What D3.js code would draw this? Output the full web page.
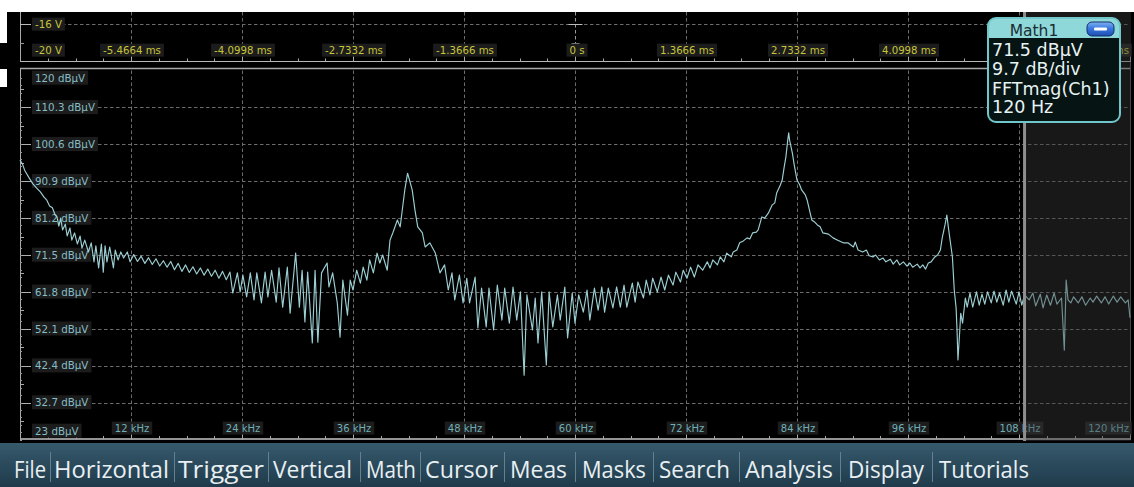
<!DOCTYPE html>
<html>
<head>
<meta charset="utf-8">
<script src="https://cdn.jsdelivr.net/npm/d3@7"></script>
<style>
  body { margin: 0; background: #fff; }
  svg { display: block; }
</style>
</head>
<body>
<svg id="scope" width="1134" height="487"></svg>
<script>
// ---- data -------------------------------------------------------------
const freqTicksKHz = [12, 24, 36, 48, 60, 72, 84, 96, 108, 120];
const levelTicksDb = [120, 110.3, 100.6, 90.9, 81.2, 71.5, 61.8, 52.1, 42.4, 32.7, 23];
const timeTicksMs = [-5.4664, -4.0998, -2.7332, -1.3666, 0, 1.3666, 2.7332, 4.0998, 5.4664, 6.833];
const timeTickLabels = ["-5.4664 ms", "-4.0998 ms", "-2.7332 ms", "-1.3666 ms", "0 s",
                        "1.3666 ms", "2.7332 ms", "4.0998 ms", "5.4664 ms", "6.833 ms"];
const voltTicks = [-16, -20];
const mathTitle = "Math1";
const mathReadout = ["71.5 dBµV", "9.7 dB/div", "FFTmag(Ch1)", "120 Hz"];
const menuItems = ["File", "Horizontal", "Trigger", "Vertical", "Math", "Cursor",
                   "Meas", "Masks", "Search", "Analysis", "Display", "Tutorials"];
const gateStartKHz = 108.6;

// FFT magnitude of Ch1: [frequency kHz, level dBµV]
const spectrum = [
  [0,96.5],[0.3,95.2],[0.5,93.8],[1.0,91.7],[1.4,90.2],[1.8,89.1],[2.2,88.1],[2.6,86.7],
  [2.9,85.9],[3.2,84.4],[3.5,83.9],[3.8,82.0],[4.0,81.5],[4.2,79.1],[4.4,81.2],[4.6,78.1],
  [4.9,79.6],[5.1,76.5],[5.4,78.6],[5.6,75.4],[5.9,77.3],[6.2,74.4],[6.5,76.5],[6.7,73.3],
  [7.0,75.4],[7.4,72.3],[7.7,74.7],[8.0,69.7],[8.2,73.9],[8.5,68.1],[8.8,74.4],[9.0,67.0],
  [9.2,73.9],[9.4,69.7],[9.7,73.6],[10.1,68.1],[10.3,72.8],[10.6,70.2],[10.9,72.3],[11.2,70.7],
  [11.6,72.3],[11.9,69.7],
  [12.3,71.6],[12.7,69.8],[13.1,71.2],[13.5,69.3],[13.9,70.8],[14.3,69.0],[14.7,70.5],[15.1,68.6],
  [15.5,70.0],[15.9,68.3],[16.3,69.8],[16.7,67.6],[17.1,69.3],[17.5,67.2],[17.9,68.9],[18.3,66.9],
  [18.7,68.4],[19.1,66.5],[19.5,68.1],[19.9,66.2],[20.3,67.8],[20.7,65.9],[21.1,67.5],[21.5,65.4],
  [21.9,67.2],[22.3,65.0],
  [22.7,67.0],[23.0,61.5],[23.5,66.8],[23.8,61.8],[24.1,66.2],[24.5,60.5],[24.9,66.8],[25.3,59.7],
  [25.6,66.8],[26.1,58.9],[26.5,67.0],[26.8,60.5],[27.2,67.5],[27.7,59.1],[28.0,68.1],[28.4,57.8],
  [28.9,68.3],[29.2,56.2],[29.8,72.0],[30.2,57.8],[30.5,67.5],[30.8,53.9],[31.1,67.0],[31.6,48.4],
  [31.9,67.5],[32.2,48.6],[32.6,66.8],[33.2,69.4],[33.4,63.1],[33.8,66.8],[34.3,58.9],[34.6,49.9],
  [34.9,64.9],[35.4,55.7],[35.7,64.9],[36.0,62.3],[36.4,67.5],[36.8,64.1],[37.1,68.3],[37.5,64.9],
  [37.8,70.2],[38.2,66.8],[38.6,72.0],[38.9,69.4],[39.2,71.5],[39.7,67.5],[40.0,75.4],[40.3,77.3],
  [40.8,80.7],[41.1,78.9],[41.3,82.8],[41.6,88.6],[41.9,93.0],[42.4,88.6],[42.7,83.3],[43.0,78.9],
  [43.5,77.3],[43.8,73.6],[44.3,74.7],[44.9,72.0],[45.4,66.8],[45.9,68.9],[46.3,62.3],
  [46.7,66.8],[47.0,59.7],[47.5,66.2],[47.9,58.9],[48.3,65.4],[48.6,58.9],[49.2,65.7],[49.5,52.3],
  [49.9,62.8],[50.4,52.6],[50.7,62.8],[51.2,51.8],[51.6,63.6],[52.1,54.4],[52.4,62.8],[52.9,53.6],
  [53.3,63.1],[53.7,54.4],[54.1,61.8],[54.5,39.9],[54.8,61.0],[55.4,51.8],[55.7,60.2],[56.0,48.4],
  [56.4,61.8],[56.9,42.6],[57.2,61.8],[57.6,52.6],[58.1,61.0],[58.4,54.4],[58.9,63.1],[59.2,49.7],
  [59.7,61.5],[60.0,53.6],[60.4,61.0],[60.9,56.5],[61.3,62.3],[61.6,54.4],[62.1,62.8],[62.5,57.0],
  [62.9,63.1],[63.2,56.5],[63.6,62.8],[64.1,57.6],[64.5,63.1],[64.9,57.8],[65.3,63.6],[65.6,57.8],
  [66.2,64.1],[66.5,59.1],[66.8,64.4],[67.4,60.2],[67.7,64.9],[68.1,61.0],[68.4,65.4],[68.9,61.8],
  [69.3,65.7],[69.7,62.3],[70.1,66.2],[70.6,63.6],[70.9,67.0],[71.4,64.4],[71.7,67.5],[72.1,65.4],
  [72.5,68.3],[72.9,65.7],[73.3,68.9],[73.8,67.5],[74.3,69.7],[74.6,68.1],[74.9,70.2],[75.4,68.9],
  [75.7,71.0],[76.1,69.7],[76.4,72.0],[76.9,71.0],[77.1,72.3],[77.5,72.8],[77.8,74.7],[78.2,75.2],
  [78.6,76.0],[78.9,75.7],[79.2,77.3],[79.6,77.5],[79.8,78.1],[80.2,81.5],[80.5,81.2],[80.9,82.5],
  [81.3,84.6],[81.6,85.2],[81.8,87.8],[82.2,89.9],[82.4,91.2],[82.6,94.4],[82.8,97.3],[83.0,101.7],
  [83.1,103.6],[83.2,101.7],[83.5,98.3],[83.7,95.2],[84.0,91.2],[84.3,89.9],[84.5,88.6],[84.9,87.3],
  [85.1,85.9],[85.4,82.8],[85.6,80.7],[85.9,80.2],[86.2,79.4],[86.5,78.9],[86.8,77.3],[87.4,77.0],
  [87.9,76.0],[88.4,75.4],[89.0,74.7],[89.5,74.7],[90.1,73.6],[90.3,74.9],[90.6,72.8],[91.1,72.3],
  [91.5,72.8],[91.8,71.3],[92.2,71.0],[92.5,71.5],[92.9,70.2],[93.3,70.7],[93.6,69.7],[94.1,70.4],
  [94.4,69.1],[94.8,70.2],[95.1,68.9],[95.5,69.7],[95.9,68.6],[96.2,69.4],[96.5,68.3],[97.0,69.1],
  [97.3,68.1],[97.6,68.9],[97.9,67.8],[98.2,69.4],[98.5,69.7],[98.9,71.0],[99.2,71.5],[99.5,72.8],
  [99.7,76.0],[100.0,79.4],[100.2,82.0],[100.4,78.1],[100.8,71.0],[101.0,62.3],[101.2,57.6],[101.3,51.8],
  [101.4,43.9],[101.6,51.8],[101.7,56.2],[101.9,53.6],[102.2,60.2],[102.4,57.8],[102.7,61.5],
  [103.0,57.8],[103.4,61.8],[103.7,58.3],[104.0,61.2],[104.3,58.6],[104.6,61.8],[105.0,58.9],[105.3,62.0],
  [105.6,59.1],[105.9,61.5],[106.3,58.3],[106.6,62.3],[106.9,59.1],[107.2,62.0],[107.7,58.6],[108.0,61.8],
  [108.3,58.3],[108.6,61.0],[109.1,59.7],[109.5,61.5],[109.8,58.1],[110.3,61.2],[110.6,57.6],[111.0,61.0],
  [111.4,58.3],[111.8,61.5],[112.1,58.6],[112.6,60.2],[112.9,46.5],[113.1,64.9],[113.3,59.7],[113.6,58.9],
  [113.9,60.5],[114.4,58.9],[114.8,60.5],[115.2,58.3],[115.7,60.2],[116.0,59.1],[116.4,60.7],[116.9,58.9],
  [117.3,60.5],[117.7,58.6],[118.2,60.7],[118.6,59.1],[119.0,60.5],[119.5,58.9],[119.8,59.7],[120.0,55.0]
];

// ---- layout -----------------------------------------------------------
const svg = d3.select("#scope").attr("font-family", "'DejaVu Sans', sans-serif");
const W = 1134, H = 487;
const left = 20, right = 1130;
const plotTop = 70.5, plotBottom = 439.5;
const menuTop = 443;
// menu item start, width and separator positions (px)
const menuX = [14, 54, 178, 273, 366, 425, 510, 582, 659, 745, 848, 939];
const menuW = [32, 115, 86, 79, 50, 73, 57, 64, 71, 88, 76, 90];
const menuSepX = [50, 174, 268, 360, 420, 504, 575, 653, 739, 840, 932];

const x = d3.scaleLinear().domain([0, 120]).range([left, right]);
const y = d3.scaleLinear().domain([23, 120]).range([plotBottom, plotTop]);
const tx = d3.scaleLinear().domain([-6.833, 6.833]).range([left, right]);
const vy = d3.scaleLinear().domain([-20, -16]).range([61, 24]);
const px = v => Math.round(v) + 0.5;

const bx = 988, by = 18, bw = 132, bh = 104, br = 8;   // readout badge box

// ---- background ---------------------------------------------------------
svg.append("rect").attr("x", 0).attr("y", 0).attr("width", W).attr("height", H).attr("fill", "#fff");
svg.append("rect").attr("x", 0).attr("y", 12).attr("width", W).attr("height", menuTop - 12).attr("fill", "#000");
svg.append("rect").attr("x", 0).attr("y", 12).attr("width", 7).attr("height", 31).attr("fill", "#fff");
svg.append("rect").attr("x", 0).attr("y", 69).attr("width", 7).attr("height", 18).attr("fill", "#fff");

const gridColor = "#6c6c6c";
const dash = "3.5,2.5";

// ---- time / voltage panel ---------------------------------------------
const timePanel = svg.append("g");
timePanel.selectAll("line.tgrid").data(timeTicksMs.slice(0, -1)).join("line")
  .attr("x1", d => px(tx(d))).attr("x2", d => px(tx(d)))
  .attr("y1", 12).attr("y2", 61)
  .attr("stroke", d => d === 0 ? "#9a9a9a" : gridColor).attr("stroke-dasharray", dash);
timePanel.append("line").attr("x1", left).attr("x2", right).attr("y1", px(vy(-16))).attr("y2", px(vy(-16)))
  .attr("stroke", gridColor).attr("stroke-dasharray", dash);
// centre crosshair
timePanel.append("line").attr("x1", px(tx(0)) - 7).attr("x2", px(tx(0)) + 7)
  .attr("y1", px(vy(-16))).attr("y2", px(vy(-16))).attr("stroke", "#bbb");
timePanel.append("line").attr("x1", px(tx(0)) - 4).attr("x2", px(tx(0)) + 4)
  .attr("y1", px(vy(-18))).attr("y2", px(vy(-18))).attr("stroke", "#999");
// left volt axis
timePanel.append("line").attr("x1", px(left)).attr("x2", px(left)).attr("y1", 12).attr("y2", 61.5).attr("stroke", "#aaa");
timePanel.append("line").attr("x1", left).attr("x2", left + 11).attr("y1", px(vy(-16))).attr("y2", px(vy(-16))).attr("stroke", "#bbb");
timePanel.append("line").attr("x1", left).attr("x2", left + 4).attr("y1", px(vy(-18))).attr("y2", px(vy(-18))).attr("stroke", "#999");
// time axis line with quarter-division ticks
timePanel.append("line").attr("x1", left).attr("x2", right + 1).attr("y1", 61.5).attr("y2", 61.5).attr("stroke", "#b8b8b8").attr("stroke-width", 1.2);
timePanel.selectAll("line.tt").data(d3.range(-6.833, 6.84, 1.3666 / 4)).join("line")
  .attr("x1", d => px(tx(d))).attr("x2", d => px(tx(d)))
  .attr("y1", 61.5).attr("y2", (d, i) => i % 4 === 0 ? 55 : 58.5).attr("stroke", "#aaa");

function boxedText(g, txt, xPos, yPos, anchor, color, size) {
  const grp = g.append("g");
  const t = grp.append("text").attr("x", xPos).attr("y", yPos).attr("text-anchor", anchor)
    .attr("dy", "0.36em").attr("font-size", size).attr("fill", color).text(txt);
  const b = t.node().getBBox();
  grp.insert("rect", "text").attr("x", b.x - 3).attr("y", b.y - 1)
    .attr("width", b.width + 6).attr("height", b.height + 2).attr("fill", "#1c1c1c");
  return grp;
}

const yellow = "#c8c43a";
voltTicks.forEach(v => {
  const yy = v === -20 ? 50 : vy(v);
  boxedText(timePanel, `${v} V`, 35, yy, "start", yellow, 10.2);
});
timeTicksMs.forEach((t, i) => {
  const last = i === timeTicksMs.length - 1;
  const cx = tx(t);
  // labels that sit entirely under the readout badge are not drawn
  if (!last && cx > bx - 10) return;
  boxedText(timePanel, timeTickLabels[i], last ? right - 1 : cx + (t === 0 ? 2 : 1), 50,
            last ? "end" : "middle", yellow, 10.2);
});

// ---- main FFT panel -------------------------------------------------------
const main = svg.append("g");
main.selectAll("line.vgrid").data(freqTicksKHz.slice(0, -1)).join("line")
  .attr("x1", d => px(x(d))).attr("x2", d => px(x(d)))
  .attr("y1", plotTop).attr("y2", plotBottom)
  .attr("stroke", gridColor).attr("stroke-dasharray", dash);
main.selectAll("line.hgrid").data(levelTicksDb.slice(1, -1)).join("line")
  .attr("x1", left).attr("x2", right)
  .attr("y1", d => px(y(d))).attr("y2", d => px(y(d)))
  .attr("stroke", gridColor).attr("stroke-dasharray", dash);

// frame, left axis and frequency axis
main.append("line").attr("x1", left).attr("x2", right + 1).attr("y1", 68.5).attr("y2", 68.5)
  .attr("stroke", "#a8a8a8").attr("stroke-width", 1.6);
main.append("line").attr("x1", right + 0.5).attr("x2", right + 0.5).attr("y1", 62).attr("y2", plotBottom)
  .attr("stroke", "#4a4a4a");
main.append("line").attr("x1", px(left)).attr("x2", px(left)).attr("y1", 68).attr("y2", plotBottom)
  .attr("stroke", "#aaa");
main.selectAll("line.ltick").data(levelTicksDb.slice(1, -1)).join("line")
  .attr("x1", left).attr("x2", left + 11).attr("y1", d => px(y(d))).attr("y2", d => px(y(d)))
  .attr("stroke", "#b0b0b0");
main.selectAll("line.lminor").data(d3.range(23, 120, 9.7 / 5)).join("line")
  .attr("x1", left).attr("x2", left + 2)
  .attr("y1", d => px(y(d))).attr("y2", d => px(y(d))).attr("stroke", "#999");
main.selectAll("line.lhalf").data(d3.range(23 + 4.85, 120, 9.7)).join("line")
  .attr("x1", left).attr("x2", left + 4)
  .attr("y1", d => px(y(d))).attr("y2", d => px(y(d))).attr("stroke", "#aaa");
main.append("line").attr("x1", left).attr("x2", right + 1).attr("y1", 439).attr("y2", 439)
  .attr("stroke", "#c4c4c4").attr("stroke-width", 1.5);
main.selectAll("line.ft").data(d3.range(0, 120.01, 3)).join("line")
  .attr("x1", d => px(x(d))).attr("x2", d => px(x(d)))
  .attr("y1", 439).attr("y2", (d, i) => i % 4 === 0 ? 433 : 436).attr("stroke", "#aaa");

const teal = "#86bec6";
levelTicksDb.forEach((v, i) => {
  let yy = y(v);
  if (i === 0) yy += 7.5;
  if (i === levelTicksDb.length - 1) yy -= 8.5;
  boxedText(main, `${v} dBµV`, 35, yy, "start", teal, 10.3);
});
freqTicksKHz.forEach((f, i) => {
  const last = i === freqTicksKHz.length - 1;
  boxedText(main, `${f} kHz`, last ? right - 1 : x(f) + 1, 428, last ? "end" : "middle", "#6fb0b8", 10);
});

// spectrum trace
const line = d3.line().x(d => x(d[0])).y(d => y(d[1]));
main.append("path").datum(spectrum).attr("d", line)
  .attr("fill", "none").attr("stroke", "#9ccfd3").attr("stroke-width", 1.15)
  .attr("stroke-linejoin", "round");

// gated region beyond the cursor
const gx = x(gateStartKHz);
svg.append("rect").attr("x", gx).attr("y", 12).attr("width", right + 1 - gx).attr("height", 429)
  .attr("fill", "rgb(58,58,58)").attr("fill-opacity", 0.42);
svg.append("line").attr("x1", gx).attr("x2", gx).attr("y1", 12).attr("y2", 441)
  .attr("stroke", "#8e8e8e").attr("stroke-width", 3);

// ---- Math1 readout badge --------------------------------------------------
const defs = svg.append("defs");
const badge = svg.append("g");
badge.append("rect").attr("x", bx).attr("y", by).attr("width", bw).attr("height", bh).attr("rx", br)
  .attr("fill", "#071414");
badge.append("path")
  .attr("d", `M${bx},${by + 20} V${by + br} Q${bx},${by} ${bx + br},${by} H${bx + bw - br} Q${bx + bw},${by} ${bx + bw},${by + br} V${by + 20} Z`)
  .attr("fill", "#8ed8da");
badge.append("rect").attr("x", bx).attr("y", by).attr("width", bw).attr("height", bh).attr("rx", br)
  .attr("fill", "none").attr("stroke", "#70c6c8").attr("stroke-width", 2);
badge.append("text").attr("x", 1034).attr("y", 35.5).attr("text-anchor", "middle")
  .attr("font-size", 15.5).attr("fill", "#1b2c30").text(mathTitle);
const bg = defs.append("linearGradient").attr("id", "btnGrad").attr("x1", 0).attr("y1", 0).attr("x2", 0).attr("y2", 1);
bg.append("stop").attr("offset", "0%").attr("stop-color", "#7fb2f2");
bg.append("stop").attr("offset", "45%").attr("stop-color", "#3b79de");
bg.append("stop").attr("offset", "100%").attr("stop-color", "#1c4cb0");
badge.append("rect").attr("x", 1087).attr("y", 22).attr("width", 27).attr("height", 14).attr("rx", 5)
  .attr("fill", "url(#btnGrad)").attr("stroke", "#12306c").attr("stroke-width", 1);
badge.append("rect").attr("x", 1094).attr("y", 27.5).attr("width", 13).attr("height", 3).attr("rx", 1)
  .attr("fill", "#fff");
const baselines = [56, 75, 94.5, 113];
mathReadout.forEach((s, i) => {
  badge.append("text").attr("x", 992).attr("y", baselines[i]).attr("font-size", 17.5)
    .attr("fill", "#e6f3f3").text(s);
});

// ---- menu bar ---------------------------------------------------------------
const mg = defs.append("linearGradient").attr("id", "menuGrad").attr("x1", 0).attr("y1", 0).attr("x2", 0).attr("y2", 1);
mg.append("stop").attr("offset", "0%").attr("stop-color", "#36596c");
mg.append("stop").attr("offset", "100%").attr("stop-color", "#1f3b4b");
svg.append("rect").attr("x", 0).attr("y", menuTop).attr("width", W).attr("height", H - menuTop)
  .attr("fill", "url(#menuGrad)");
const menu = svg.append("g").attr("font-family", "'Open Sans', sans-serif");
menuItems.forEach((m, i) => {
  menu.append("text").attr("x", menuX[i]).attr("y", 478).attr("font-size", 23)
    .attr("textLength", menuW[i]).attr("lengthAdjust", "spacingAndGlyphs")
    .attr("fill", "#e9eff2").text(m);
});
menu.selectAll("line.sep").data(menuSepX).join("line")
  .attr("x1", d => d + 0.5).attr("x2", d => d + 0.5)
  .attr("y1", 452).attr("y2", 482).attr("stroke", "#62808f");
</script>
</body>
</html>
